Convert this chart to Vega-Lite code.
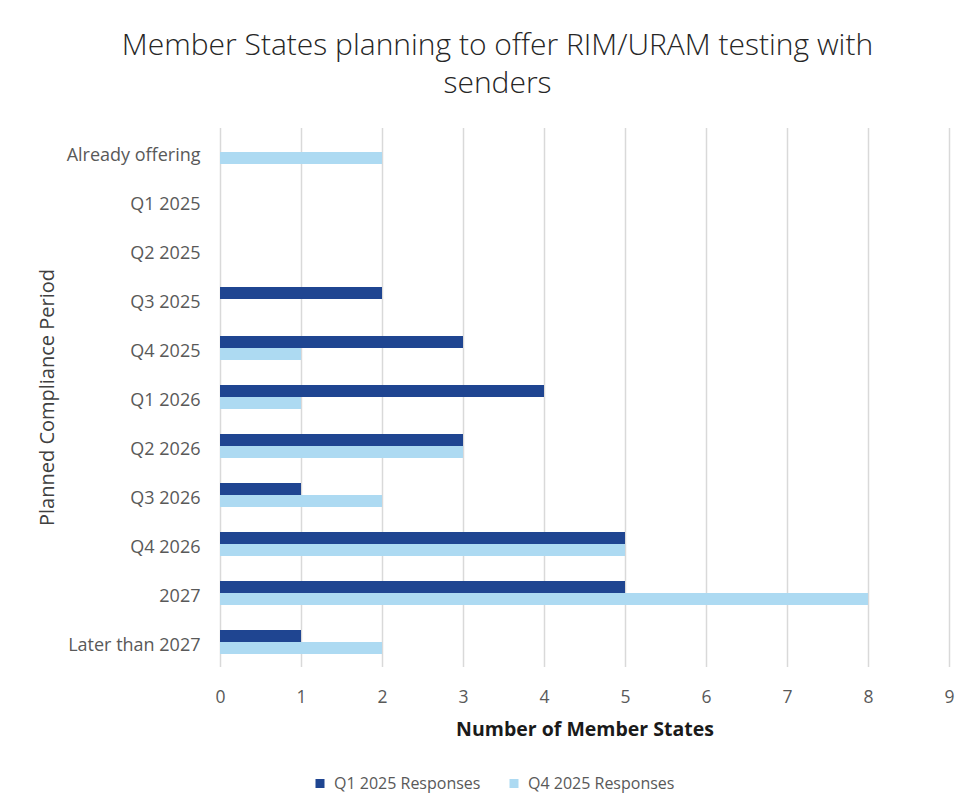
{
  "$schema": "https://vega.github.io/schema/vega-lite/v6.json",
  "width": 729,
  "height": 539,
  "autosize": {"type": "none"},
  "padding": {"left": 220, "top": 127.5, "right": 14, "bottom": 144.5},
  "background": "white",
  "config": {
    "view": {"stroke": null},
    "font": "Open Sans"
  },
  "title": {
    "text": ["Member States planning to offer RIM/URAM testing with", "senders"],
    "fontSize": 30,
    "fontWeight": 300,
    "color": "#262626",
    "anchor": "middle",
    "frame": "group",
    "dx": -87,
    "offset": 29,
    "lineHeight": 38
  },
  "data": {
    "values": [
      {"period": "Already offering", "series": "Q1 2025 Responses", "count": 0},
      {"period": "Already offering", "series": "Q4 2025 Responses", "count": 2},
      {"period": "Q1 2025", "series": "Q1 2025 Responses", "count": 0},
      {"period": "Q1 2025", "series": "Q4 2025 Responses", "count": 0},
      {"period": "Q2 2025", "series": "Q1 2025 Responses", "count": 0},
      {"period": "Q2 2025", "series": "Q4 2025 Responses", "count": 0},
      {"period": "Q3 2025", "series": "Q1 2025 Responses", "count": 2},
      {"period": "Q3 2025", "series": "Q4 2025 Responses", "count": 0},
      {"period": "Q4 2025", "series": "Q1 2025 Responses", "count": 3},
      {"period": "Q4 2025", "series": "Q4 2025 Responses", "count": 1},
      {"period": "Q1 2026", "series": "Q1 2025 Responses", "count": 4},
      {"period": "Q1 2026", "series": "Q4 2025 Responses", "count": 1},
      {"period": "Q2 2026", "series": "Q1 2025 Responses", "count": 3},
      {"period": "Q2 2026", "series": "Q4 2025 Responses", "count": 3},
      {"period": "Q3 2026", "series": "Q1 2025 Responses", "count": 1},
      {"period": "Q3 2026", "series": "Q4 2025 Responses", "count": 2},
      {"period": "Q4 2026", "series": "Q1 2025 Responses", "count": 5},
      {"period": "Q4 2026", "series": "Q4 2025 Responses", "count": 5},
      {"period": "2027", "series": "Q1 2025 Responses", "count": 5},
      {"period": "2027", "series": "Q4 2025 Responses", "count": 8},
      {"period": "Later than 2027", "series": "Q1 2025 Responses", "count": 1},
      {"period": "Later than 2027", "series": "Q4 2025 Responses", "count": 2}
    ]
  },
  "mark": {"type": "bar"},
  "encoding": {
    "y": {
      "field": "period",
      "type": "nominal",
      "sort": null,
      "scale": {"paddingInner": 0.51, "paddingOuter": 0.255},
      "axis": {
        "title": "Planned Compliance Period",
        "titleFontSize": 20,
        "titleFontWeight": "normal",
        "titleColor": "#404040",
        "titlePadding": 9,
        "labelFontSize": 18,
        "labelColor": "#595959",
        "labelPadding": 20,
        "labelBaseline": "middle",
        "labelOffset": 4,
        "ticks": false,
        "domain": false,
        "grid": false
      }
    },
    "yOffset": {"field": "series", "type": "nominal", "sort": ["Q1 2025 Responses", "Q4 2025 Responses"]},
    "x": {
      "field": "count",
      "type": "quantitative",
      "scale": {"domain": [0, 9], "nice": false},
      "axis": {
        "title": "Number of Member States",
        "titleFontSize": 19.5,
        "titleFontWeight": "bold",
        "titleColor": "#1a1a1a",
        "titlePadding": 14,
        "labelFontSize": 17.5,
        "labelColor": "#595959",
        "labelPadding": 22,
        "labelOverlap": false,
        "labelFlush": false,
        "values": [0, 1, 2, 3, 4, 5, 6, 7, 8, 9],
        "ticks": false,
        "domain": false,
        "grid": true,
        "gridColor": "#D9D9D9",
        "gridWidth": 1.5
      }
    },
    "color": {
      "field": "series",
      "type": "nominal",
      "scale": {"domain": ["Q1 2025 Responses", "Q4 2025 Responses"], "range": ["#1F4591", "#ADDAF2"]},
      "legend": {
        "title": null,
        "orient": "none",
        "direction": "horizontal",
        "legendX": 92,
        "legendY": 648,
        "symbolType": "square",
        "symbolSize": 81,
        "symbolStrokeWidth": 0,
        "labelFontSize": 16,
        "labelColor": "#595959",
        "labelOffset": 6,
        "columnPadding": 25
      }
    }
  }
}
